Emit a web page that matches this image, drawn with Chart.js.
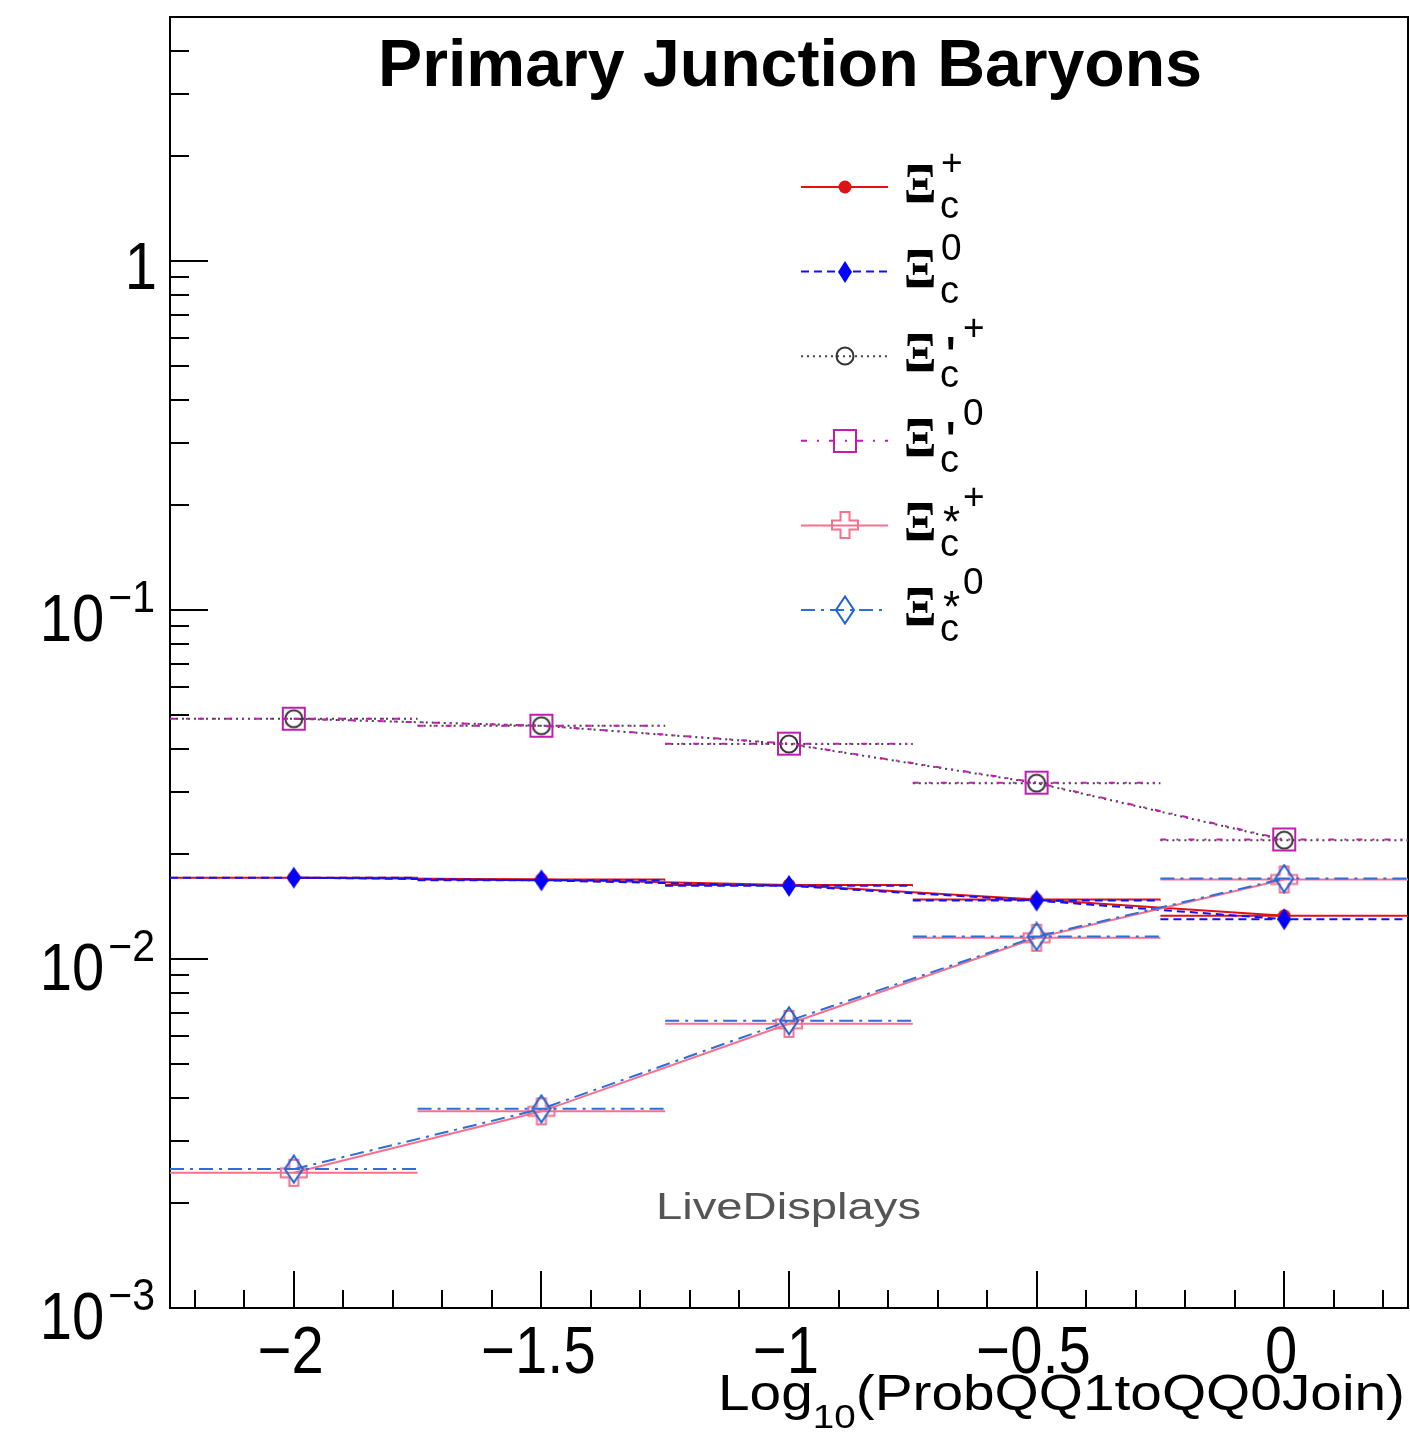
<!DOCTYPE html>
<html>
<head>
  <script src="https://cdnjs.cloudflare.com/ajax/libs/Chart.js/4.4.1/chart.umd.min.js"></script>
  <style>
    body { margin: 0; background: #fff; }
    #wrap { width: 1410px; height: 1434px; }
  </style>
</head>
<body>
<div id="wrap"><canvas id="plot" width="1410" height="1434"></canvas></div>
<script>
// values (log10 of the QQ1->QQ0 join probability on x)
const xVals = [-2, -1.5, -1, -0.5, 0];
const xiCPlus      = [0.0171, 0.0169, 0.0163, 0.0148, 0.0133];
const xiC0         = [0.0171, 0.0168, 0.0162, 0.0147, 0.0130];
const xiCPrimePlus = [0.0488, 0.0466, 0.0413, 0.0319, 0.0219];
const xiCPrime0    = [0.0488, 0.0466, 0.0414, 0.0320, 0.0220];
const xiCStarPlus  = [0.00244, 0.00366, 0.00652, 0.0115, 0.0169];
const xiCStar0     = [0.00250, 0.00372, 0.00665, 0.0116, 0.0170];
const halfBin = 0.25;

const seriesLabels = ['Ξc+', 'Ξc0', "Ξ'c+", "Ξ'c0", 'Ξ*c+', 'Ξ*c0'];
const legendMark = ['', '', "'", "'", '*', '*'];
const legendSup = ['+', '0', '+', '0', '+', '0'];

const xTicks = [-2, -1.5, -1, -0.5, 0];
const xTickLabels = ['−2', '−1.5', '−1', '−0.5', '0'];
const yTicks = [0.001, 0.01, 0.1, 1];
const yTickLabels = [['10', '−3'], ['10', '−2'], ['10', '−1'], ['1', '']];

const SANS = '"Liberation Sans", Arial, Helvetica, sans-serif';

// ROOT-like marker glyphs as small canvases
function marker(kind, color) {
  const dims = { dot: [14, 14], dfill: [16, 24], circle: [22, 22], square: [26, 26], cross: [30, 30], diamond: [22, 30] };
  const [w, h] = dims[kind];
  const c = document.createElement('canvas');
  c.width = w; c.height = h;
  const g = c.getContext('2d');
  g.strokeStyle = color; g.fillStyle = color; g.lineWidth = 2;
  const cx = w / 2, cy = h / 2;
  g.beginPath();
  if (kind === 'dot') {
    g.arc(cx, cy, 6.5, 0, Math.PI * 2); g.fill();
  } else if (kind === 'dfill') {
    g.moveTo(cx, 1); g.lineTo(w - 1, cy); g.lineTo(cx, h - 1); g.lineTo(1, cy); g.closePath(); g.fill();
  } else if (kind === 'circle') {
    g.arc(cx, cy, 8.5, 0, Math.PI * 2); g.stroke();
  } else if (kind === 'square') {
    g.rect(2, 2, w - 4, h - 4); g.stroke();
  } else if (kind === 'cross') {
    const a = 4.5, b = 13;
    g.moveTo(cx - a, cy - b); g.lineTo(cx + a, cy - b); g.lineTo(cx + a, cy - a); g.lineTo(cx + b, cy - a);
    g.lineTo(cx + b, cy + a); g.lineTo(cx + a, cy + a); g.lineTo(cx + a, cy + b); g.lineTo(cx - a, cy + b);
    g.lineTo(cx - a, cy + a); g.lineTo(cx - b, cy + a); g.lineTo(cx - b, cy - a); g.lineTo(cx - a, cy - a);
    g.closePath(); g.stroke();
  } else if (kind === 'diamond') {
    g.moveTo(cx, 1.5); g.lineTo(w - 2, cy); g.lineTo(cx, h - 1.5); g.lineTo(2, cy); g.closePath(); g.stroke();
  }
  return c;
}

const series = [
  { vals: xiCPlus,      color: '#dd1414', dash: [],             mk: marker('dot', '#dd1414') },
  { vals: xiC0,         color: '#1010ff', dash: [8, 5],         mk: marker('dfill', '#0000ff') },
  { vals: xiCPrimePlus, color: '#444444', dash: [2, 4],         mk: marker('circle', '#333333') },
  { vals: xiCPrime0,    color: '#c21cb2', dash: [6, 10, 2, 10], mk: marker('square', '#c21cb2') },
  { vals: xiCStarPlus,  color: '#f7708c', dash: [],             mk: marker('cross', '#f7708c') },
  { vals: xiCStar0,     color: '#2a70d8', dash: [14, 6, 3, 6],  mk: marker('diamond', '#1d64d2') }
];

const datasets = [];
series.forEach((s, i) => {
  datasets.push({
    label: seriesLabels[i],
    data: xVals.map((x, j) => ({ x: x, y: s.vals[j] })),
    showLine: true,
    borderColor: s.color,
    borderWidth: 2,
    borderDash: s.dash,
    pointStyle: s.mk,
    pointRadius: 10,
    tension: 0,
    order: 20 - 2 * i
  });
  datasets.push({
    label: seriesLabels[i] + ' bins',
    data: xVals.flatMap((x, j) => [
      { x: x - halfBin, y: s.vals[j] },
      { x: x + halfBin, y: s.vals[j] },
      { x: x + halfBin, y: null }
    ]),
    showLine: true,
    spanGaps: false,
    borderColor: s.color,
    borderWidth: 2,
    borderDash: s.dash,
    pointRadius: 0,
    order: 21 - 2 * i
  });
});

function put(ctx, s, x, y, o) {
  ctx.save();
  ctx.font = o.font;
  ctx.fillStyle = o.color || '#000';
  ctx.textAlign = o.align || 'left';
  ctx.textBaseline = 'alphabetic';
  ctx.translate(x, y);
  ctx.scale(o.sx || 1, o.sy || 1);
  ctx.fillText(s, 0, 0);
  ctx.restore();
}
function width(ctx, s, font) {
  ctx.save(); ctx.font = font; const w = ctx.measureText(s).width; ctx.restore(); return w;
}

const axesPlugin = {
  id: 'rootAxes',
  beforeDatasetsDraw(chart) {
    const ctx = chart.ctx, a = chart.chartArea;
    const xs = chart.scales.x, ys = chart.scales.y;
    ctx.save();
    ctx.strokeStyle = '#000';
    ctx.lineWidth = 2;
    ctx.strokeRect(a.left, a.top, a.right - a.left, a.bottom - a.top);
    ctx.beginPath();
    // x ticks, drawn up from the bottom edge
    for (let k = -22; k <= 2; k++) {
      const px = Math.round(xs.getPixelForValue(k / 10));
      const len = k % 5 === 0 ? 37 : 18;
      ctx.moveTo(px, a.bottom); ctx.lineTo(px, a.bottom - len);
    }
    // y ticks, drawn right from the left edge
    for (let e = -3; e <= 0; e++) {
      for (let m = 1; m <= 9; m++) {
        const v = m * Math.pow(10, e);
        if (v > ys.max) break;
        const py = Math.round(ys.getPixelForValue(v));
        const len = m === 1 ? 38 : 19;
        ctx.moveTo(a.left, py); ctx.lineTo(a.left + len, py);
      }
    }
    ctx.stroke();
    ctx.restore();
  },
  afterDraw(chart) {
    const ctx = chart.ctx, a = chart.chartArea;
    const xs = chart.scales.x, ys = chart.scales.y;
    const big = '58px ' + SANS, sup = '41px ' + SANS;

    // y tick labels
    yTicks.forEach((v, i) => {
      const py = ys.getPixelForValue(v);
      const [base, ex] = yTickLabels[i];
      if (ex) {
        put(ctx, ex, 155, py + 2, { font: sup, align: 'right', sy: 1.06 });
        const ew = width(ctx, ex, sup);
        put(ctx, base, 155 - ew - 4, py + 31, { font: big, align: 'right', sy: 1.15 });
      } else {
        put(ctx, base, 157, py + 28, { font: big, align: 'right', sy: 1.15 });
      }
    });

    // x tick labels
    xTicks.forEach((v, i) => {
      put(ctx, xTickLabels[i], xs.getPixelForValue(v) - 3, a.bottom + 65, { font: big, align: 'center', sy: 1.15 });
    });

    // x axis title, right aligned to the frame
    const tf = '50px ' + SANS, sf = '34px ' + SANS;
    const p1 = 'Log', p2 = '10', p3 = '(ProbQQ1toQQ0Join)';
    const w1 = width(ctx, p1, tf), w2 = width(ctx, p2, sf), w3 = width(ctx, p3, tf);
    const left = 718, sx = (1405 - left) / (w1 + w2 + w3);
    put(ctx, p1, left, 1410, { font: tf, sx: sx });
    put(ctx, p2, left + w1 * sx, 1428, { font: sf, sx: sx });
    put(ctx, p3, left + (w1 + w2) * sx, 1410, { font: tf, sx: sx });

    // title
    const ttf = 'bold 66px ' + SANS, tt = 'Primary Junction Baryons';
    put(ctx, tt, 790, 86, { font: ttf, align: 'center', sx: 824 / width(ctx, tt, ttf) });

    // watermark-ish label
    const lf = '37px ' + SANS;
    put(ctx, 'LiveDisplays', 656, 1219, { font: lf, color: '#555', sx: 265 / width(ctx, 'LiveDisplays', lf) });

    // legend
    series.forEach((s, i) => {
      const y = 187 + i * 84.6;
      ctx.save();
      ctx.strokeStyle = s.color; ctx.lineWidth = 2; ctx.setLineDash(s.dash);
      ctx.beginPath(); ctx.moveTo(801, y); ctx.lineTo(888, y); ctx.stroke();
      ctx.restore();
      ctx.drawImage(s.mk, Math.round(845 - s.mk.width / 2), Math.round(y - s.mk.height / 2));
      put(ctx, 'Ξ', 904, y + 16, { font: 'bold 56px "Liberation Serif", "DejaVu Serif", serif', sx: 0.85 });
      put(ctx, 'c', 940, y + 31, { font: '38px ' + SANS });
      const mk = legendMark[i];
      if (mk === "'") put(ctx, mk, 946, y + 16, { font: 'bold 50px ' + SANS, sx: 0.8 });
      if (mk === '*') put(ctx, mk, 943, y + 12, { font: '44px ' + SANS });
      const sx0 = mk ? 963 : 941;
      put(ctx, legendSup[i], sx0, mk ? y - 16 : y - 12, { font: '37px ' + SANS });
    });
  }
};

new Chart(document.getElementById('plot'), {
  type: 'scatter',
  data: { datasets: datasets },
  options: {
    responsive: false,
    animation: false,
    devicePixelRatio: 1,
    layout: { autoPadding: false, padding: { left: 170, top: 17, right: 2, bottom: 126 } },
    plugins: { legend: { display: false }, tooltip: { enabled: false }, title: { display: false } },
    scales: {
      x: { type: 'linear', min: -2.25, max: 0.25, display: false },
      y: { type: 'logarithmic', min: 0.001, max: 5, display: false }
    }
  },
  plugins: [axesPlugin]
});
</script>
</body>
</html>
